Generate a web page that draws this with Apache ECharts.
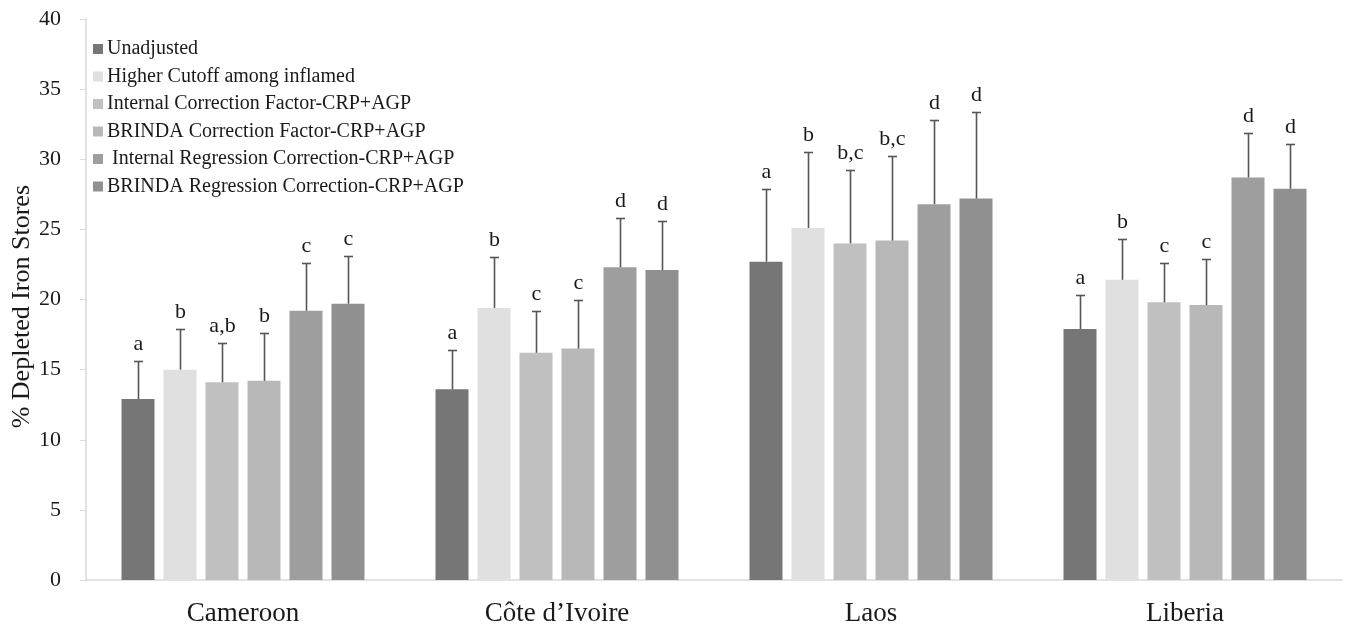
<!DOCTYPE html>
<html>
<head>
<meta charset="utf-8">
<script src="https://cdn.jsdelivr.net/npm/echarts@6/dist/echarts.min.js"></script>
<style>html,body{margin:0;padding:0;background:#fff}#c{width:1350px;height:628px}</style>
</head>
<body>
<div id="c"></div>
<script>
// ---- data ----
const countries = ['Cameroon', 'Côte d\u2019Ivoire', 'Laos', 'Liberia'];
const seriesNames = [
  'Unadjusted',
  'Higher Cutoff among inflamed',
  'Internal Correction Factor-CRP+AGP',
  'BRINDA Correction Factor-CRP+AGP',
  ' Internal Regression Correction-CRP+AGP',
  'BRINDA Regression Correction-CRP+AGP'
];
const unadjusted      = [12.9, 13.6, 22.7, 17.9];
const higherCutoff    = [15.0, 19.4, 25.1, 21.4];
const internalCF      = [14.1, 16.2, 24.0, 19.8];
const brindaCF        = [14.2, 16.5, 24.2, 19.6];
const internalReg     = [19.2, 22.3, 26.8, 28.7];
const brindaReg       = [19.7, 22.1, 27.2, 27.9];
// upper end of error bars
const unadjustedErr   = [15.6, 16.4, 27.9, 20.3];
const higherCutoffErr = [17.9, 23.0, 30.5, 24.3];
const internalCFErr   = [16.9, 19.2, 29.2, 22.6];
const brindaCFErr     = [17.6, 20.0, 30.2, 22.9];
const internalRegErr  = [22.6, 25.8, 32.8, 31.9];
const brindaRegErr    = [23.1, 25.6, 33.4, 31.1];
// significance letters
const unadjustedSig   = ['a', 'a', 'a', 'a'];
const higherCutoffSig = ['b', 'b', 'b', 'b'];
const internalCFSig   = ['a,b', 'c', 'b,c', 'c'];
const brindaCFSig     = ['b', 'c', 'b,c', 'c'];
const internalRegSig  = ['c', 'd', 'd', 'd'];
const brindaRegSig    = ['c', 'd', 'd', 'd'];
const yTicks = [0, 5, 10, 15, 20, 25, 30, 35, 40];
const yAxisTitle = '% Depleted Iron Stores';

const values = [unadjusted, higherCutoff, internalCF, brindaCF, internalReg, brindaReg];
const errs = [unadjustedErr, higherCutoffErr, internalCFErr, brindaCFErr, internalRegErr, brindaRegErr];
const sigs = [unadjustedSig, higherCutoffSig, internalCFSig, brindaCFSig, internalRegSig, brindaRegSig];
const colors = ['#767676', '#e0e0e0', '#c0c0c0', '#b8b8b8', '#9e9e9e', '#909090'];

const FONT = '"Liberation Serif", "Times New Roman", serif';
const BAR_W = 33, GAP_PX = 9, PITCH = BAR_W + GAP_PX, N = seriesNames.length;

const chart = echarts.init(document.getElementById('c'), null, {renderer: 'canvas'});
const series = [];
seriesNames.forEach((name, i) => {
  series.push({
    name: name, type: 'bar', data: values[i],
    barWidth: BAR_W, barGap: (GAP_PX / BAR_W * 100) + '%',
    itemStyle: {color: colors[i]}, emphasis: {disabled: true}, z: 2
  });
});
seriesNames.forEach((name, i) => {
  series.push({
    name: 'err' + i, type: 'custom', z: 5, silent: true,
    data: countries.map((c, k) => [k, values[i][k], errs[i][k]]),
    renderItem: function (params, api) {
      const top = api.coord([api.value(0), api.value(2)]);
      const base = api.coord([api.value(0), api.value(1)]);
      const x = Math.round(top[0] + (i - (N - 1) / 2) * PITCH) + 0.5;
      const yt = Math.round(top[1]) + 0.5;
      const style = {stroke: '#555555', lineWidth: 1.6};
      return {
        type: 'group',
        children: [
          {type: 'line', shape: {x1: x, y1: base[1], x2: x, y2: yt}, style: style},
          {type: 'line', shape: {x1: x - 4.5, y1: yt, x2: x + 4.5, y2: yt}, style: style},
          {type: 'text', style: {x: x, y: yt - 6, text: sigs[i][params.dataIndex], fill: '#1a1a1a',
            font: '22px ' + FONT, textAlign: 'center', textVerticalAlign: 'bottom'}}
        ]
      };
    }
  });
});

chart.setOption({
  animation: false,
  backgroundColor: '#ffffff',
  grid: {left: 86, right: 8, top: 19, bottom: 48, containLabel: false},
  graphic: [{
    type: 'text', left: 9, top: 185, rotation: Math.PI / 2, silent: true,
    style: {text: yAxisTitle, font: '26px ' + FONT, fill: '#1a1a1a'}
  }],
  legend: {
    data: seriesNames, orient: 'vertical', left: 88, top: 34,
    itemWidth: 10, itemHeight: 10, itemGap: 7.5, icon: 'rect',
    selectedMode: false,
    textStyle: {fontFamily: FONT, fontSize: 20, lineHeight: 20, color: '#1a1a1a', padding: [0, 0, 0, -1]}
  },
  xAxis: {
    type: 'category', data: countries,
    axisLine: {show: true, lineStyle: {color: '#d9d9d9', width: 1.5}},
    axisTick: {show: false},
    axisLabel: {fontFamily: FONT, fontSize: 27, color: '#1a1a1a', margin: 20}
  },
  yAxis: {
    type: 'value', min: yTicks[0], max: yTicks[yTicks.length - 1], interval: yTicks[1] - yTicks[0],
    axisLine: {show: true, lineStyle: {color: '#d9d9d9', width: 1.5}},
    axisTick: {show: true, length: 6, lineStyle: {color: '#d9d9d9'}},
    splitLine: {show: false},
    axisLabel: {fontFamily: FONT, fontSize: 22, color: '#1a1a1a', margin: 25}
  },
  series: series
});
</script>
</body>
</html>
